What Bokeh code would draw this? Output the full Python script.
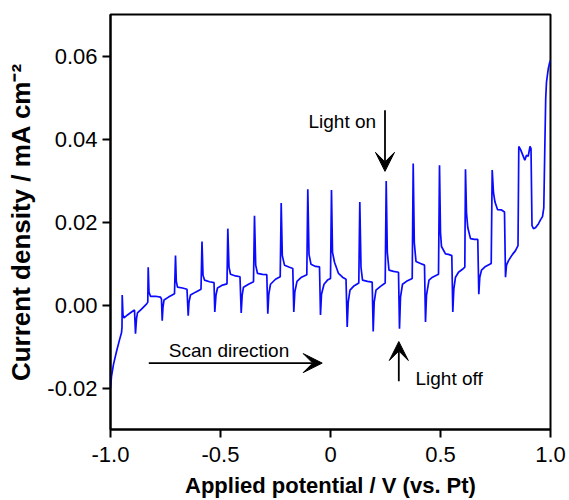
from bokeh.plotting import figure
from bokeh.models import Label, Arrow, VeeHead, FixedTicker, Range1d
from bokeh.embed import file_html
from bokeh.resources import INLINE

# Chopped-light linear sweep: applied potential (V vs. Pt) and current density (mA cm^-2)
potential = [
    -1.0, -0.9955, -0.9864, -0.9727, -0.9591, -0.95, -0.9477, -0.9468, -0.9432, -0.9386,
    -0.9227, -0.9045, -0.8909, -0.8864, -0.8818, -0.8773, -0.8591, -0.8364, -0.8305, -0.8286,
    -0.8250, -0.8182, -0.7955, -0.7727, -0.7682, -0.7650, -0.7614, -0.7568, -0.7364, -0.7091,
    -0.7045, -0.7009, -0.6955, -0.6727, -0.6523, -0.6468, -0.6432, -0.6364, -0.6136, -0.5886,
    -0.5841, -0.5795, -0.5727, -0.55, -0.5295, -0.5259, -0.5205, -0.5136, -0.4909, -0.4705,
    -0.4668, -0.4614, -0.4545, -0.4318, -0.4114, -0.4059, -0.4014, -0.3955, -0.3727, -0.35,
    -0.3455, -0.34, -0.3318, -0.3091, -0.2895, -0.285, -0.2805, -0.2727, -0.25, -0.2286,
    -0.2241, -0.2191, -0.2091, -0.1864, -0.1714, -0.1668, -0.1623, -0.1523, -0.1318, -0.1077,
    -0.1032, -0.0977, -0.0886, -0.0682, -0.05, -0.0455, -0.0409, -0.0295, -0.0136, 0.0,
    0.0045, 0.0091, 0.0182, 0.0364, 0.0545, 0.0705, 0.0759, 0.0805, 0.0886, 0.1045,
    0.1286, 0.1332, 0.1386, 0.1455, 0.1682, 0.1895, 0.1941, 0.1986, 0.2068, 0.2273,
    0.2486, 0.2532, 0.2582, 0.2659, 0.2864, 0.3091, 0.3136, 0.3182, 0.3273, 0.3455,
    0.3714, 0.3759, 0.3809, 0.3886, 0.4091, 0.4273, 0.4318, 0.4364, 0.4477, 0.4636,
    0.4909, 0.4955, 0.5, 0.5045, 0.5227, 0.5364, 0.5514, 0.5559, 0.5605, 0.5682,
    0.5818, 0.6, 0.6105, 0.6136, 0.6182, 0.6241, 0.6364, 0.6545, 0.6695, 0.6741,
    0.6786, 0.6864, 0.7045, 0.7305, 0.7350, 0.7409, 0.7477, 0.7591, 0.7773, 0.7909,
    0.7955, 0.8, 0.8091, 0.8273, 0.8409, 0.8523, 0.8559, 0.8636, 0.8741, 0.8832,
    0.8909, 0.8986, 0.9068, 0.9114, 0.9159, 0.9227, 0.9318, 0.9455, 0.9545, 0.9636,
    0.9695, 0.9741, 0.9782, 0.9818, 0.9895, 0.9955, 1.0,
]
current = [
    -0.0201, -0.0172, -0.0143, -0.0112, -0.0084, -0.0067, -0.0053, 0.0024, -0.0024, -0.0031,
    -0.0024, -0.0017, -0.0012, -0.0069, -0.0033, -0.0019, -0.0010, 0.0002, 0.0007, 0.0091,
    0.0031, 0.0021, 0.0021, 0.0019, 0.0014, -0.0038, -0.0005, 0.0012, 0.0019, 0.0027,
    0.0119, 0.0057, 0.0043, 0.0041, 0.0038, -0.0026, 0.0007, 0.0024, 0.0031, 0.0038,
    0.0153, 0.0072, 0.0060, 0.0056, 0.0054, -0.0017, 0.0024, 0.0041, 0.0048, 0.0051,
    0.0184, 0.0091, 0.0074, 0.0070, 0.0068, -0.0019, 0.0024, 0.0043, 0.0050, 0.0056,
    0.0215, 0.0096, 0.0076, 0.0074, 0.0073, -0.0021, 0.0026, 0.0050, 0.0062, 0.0068,
    0.0246, 0.0119, 0.0096, 0.0091, 0.0088, -0.0017, 0.0031, 0.0057, 0.0067, 0.0073,
    0.0279, 0.0122, 0.0098, 0.0093, 0.0092, -0.0024, 0.0026, 0.0050, 0.0060, 0.0064,
    0.0277, 0.0127, 0.0103, 0.0076, 0.0067, 0.0062, -0.0053, 0.0007, 0.0036, 0.0045,
    0.0053, 0.0248, 0.0091, 0.0060, 0.0057, 0.0055, -0.0064, 0.0007, 0.0036, 0.0045,
    0.0053, 0.0299, 0.0127, 0.0084, 0.0081, 0.0079, -0.0057, 0.0019, 0.0050, 0.0057,
    0.0064, 0.0341, 0.0150, 0.0105, 0.0100, 0.0096, -0.0041, 0.0024, 0.0060, 0.0067,
    0.0074, 0.0337, 0.0174, 0.0141, 0.0123, 0.0122, 0.0119, -0.0017, 0.0038, 0.0067,
    0.0079, 0.0086, 0.0091, 0.0327, 0.0222, 0.0186, 0.0160, 0.0158, 0.0158, 0.0026,
    0.0067, 0.0084, 0.0093, 0.0100, 0.0325, 0.0270, 0.0248, 0.0230, 0.0229, 0.0224,
    0.0067, 0.0096, 0.0107, 0.0122, 0.0131, 0.0143, 0.0382, 0.0375, 0.0361, 0.0349,
    0.0361, 0.0358, 0.0382, 0.0377, 0.0191, 0.0184, 0.0186, 0.0196, 0.0205, 0.0213,
    0.0234, 0.0377, 0.0497, 0.0537, 0.0568, 0.0583, 0.0590,
]

x_ticks = [-1.0, -0.5, 0.0, 0.5, 1.0]
x_tick_labels = ["-1.0", "-0.5", "0", "0.5", "1.0"]
y_ticks = [-0.02, 0.0, 0.02, 0.04, 0.06]
y_tick_labels = ["-0.02", "0.00", "0.02", "0.04", "0.06"]

FONT = "Liberation Sans"

p = figure(
    width=569, height=500,
    x_range=Range1d(-1.0, 1.0), y_range=Range1d(-0.03, 0.07),
    output_backend="svg", toolbar_location=None,
    min_border_left=110, min_border_right=19,
    min_border_top=14, min_border_bottom=67,
)
p.background_fill_color = "white"
p.border_fill_color = "white"
p.outline_line_color = "black"
p.outline_line_width = 2
p.xgrid.visible = False
p.ygrid.visible = False

p.line(potential, current, line_color="#0a0aff", line_width=1.7)

for ax in (p.xaxis[0], p.yaxis[0]):
    ax.axis_line_color = "black"
    ax.axis_line_width = 2
    ax.major_tick_line_color = "black"
    ax.major_tick_line_width = 2
    ax.major_tick_out = 8
    ax.major_tick_in = 0
    ax.minor_tick_line_color = None
    ax.major_label_text_font = FONT
    ax.major_label_text_font_size = "22px"
    ax.major_label_text_color = "black"
    ax.axis_label_text_font = FONT
    ax.axis_label_text_font_style = "bold"
    ax.axis_label_text_color = "black"

p.xaxis.ticker = FixedTicker(ticks=x_ticks)
p.xaxis.major_label_overrides = dict(zip(x_ticks, x_tick_labels))
p.xaxis.major_label_standoff = 9
p.xaxis.axis_label = "Applied potential / V (vs. Pt)"
p.xaxis.axis_label_text_font_size = "22px"
p.xaxis.axis_label_standoff = 8

p.yaxis.ticker = FixedTicker(ticks=y_ticks)
p.yaxis.major_label_overrides = dict(zip(y_ticks, y_tick_labels))
p.yaxis.major_label_standoff = 5
p.yaxis.axis_label = "Current density / mA cm\u207b\u00b2"
p.yaxis.axis_label_text_font_size = "26px"
p.yaxis.axis_label_standoff = 8

# annotations
def note(x, y, text):
    p.add_layout(Label(x=x, y=y, text=text, text_font=FONT, text_font_size="19px",
                       text_align="left", text_baseline="alphabetic", text_color="black"))

def pointer(x0, y0, x1, y1):
    p.add_layout(Arrow(end=VeeHead(size=19, fill_color="black", line_color="black", line_width=1),
                       x_start=x0, y_start=y0, x_end=x1, y_end=y1,
                       line_color="black", line_width=1.8))

note(-0.1, 0.0443, "Light on")
pointer(0.2477, 0.0469, 0.2477, 0.0322)
note(-0.735, -0.0110, "Scan direction")
pointer(-0.826, -0.0140, -0.0377, -0.0140)
note(0.3864, -0.0177, "Light off")
pointer(0.3105, -0.0184, 0.3105, -0.0088)

open("out.html", "w").write(file_html(p, INLINE))
